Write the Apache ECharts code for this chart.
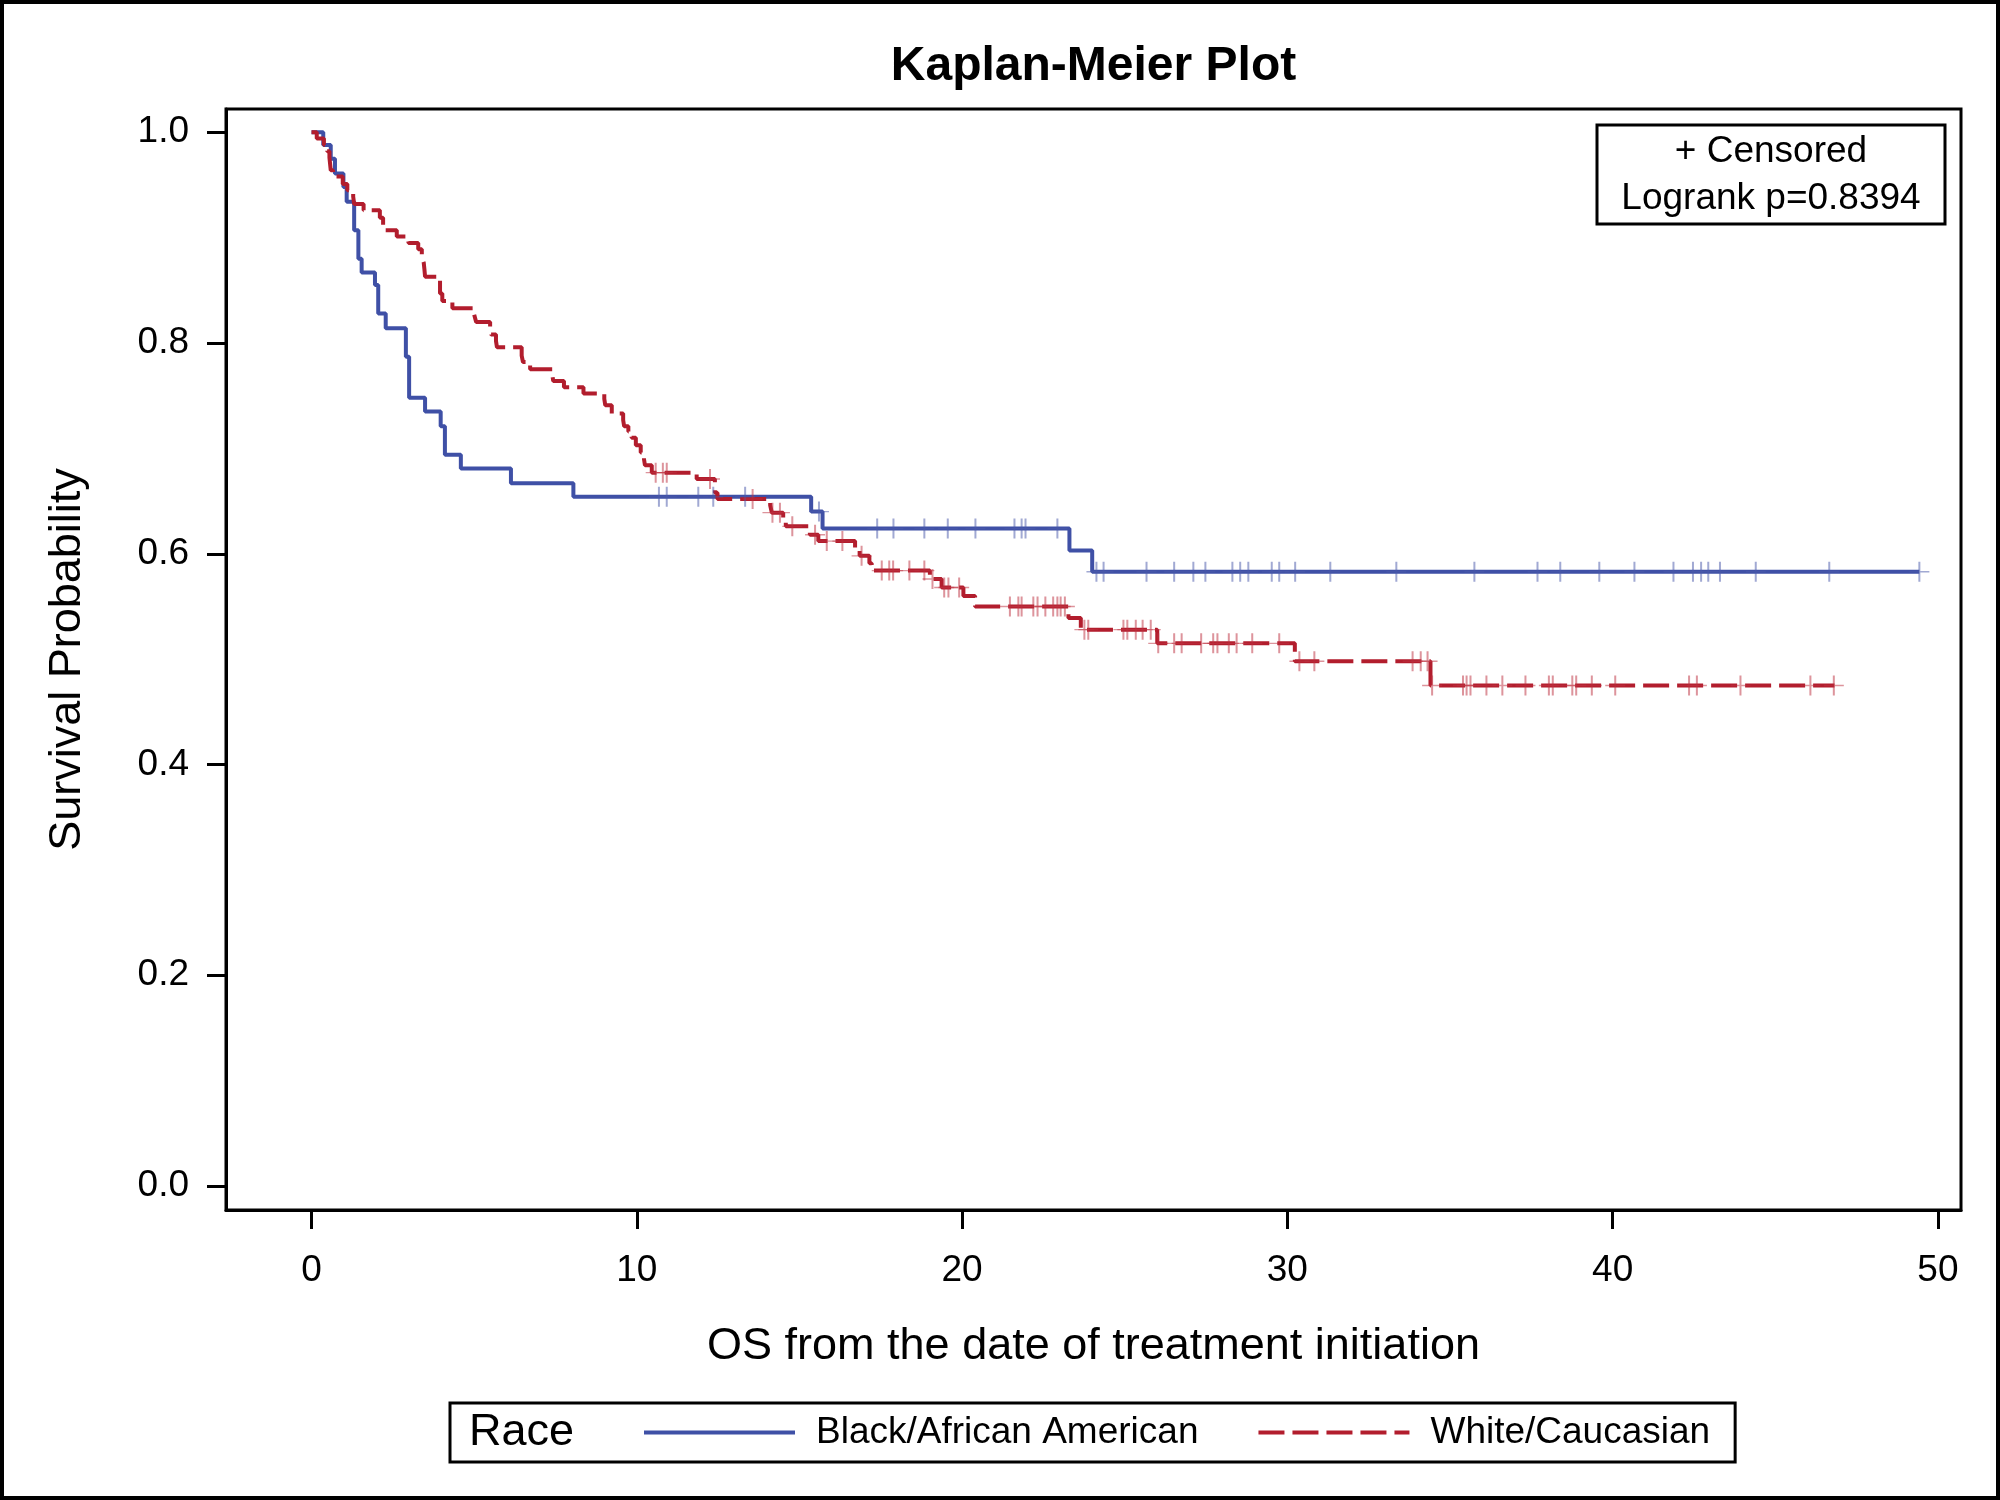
<!DOCTYPE html>
<html><head><meta charset="utf-8">
<script src="https://cdn.jsdelivr.net/npm/echarts@6/dist/echarts.min.js"></script>
<style>html,body{margin:0;padding:0;background:#fff}#c{width:2000px;height:1500px}</style>
</head><body><div id="c"></div>
<script>
const FONT = '"Liberation Sans", Arial, Helvetica, sans-serif';
const BLUE = '#3f50a6';
const RED = '#b21d2d';

const xTicks = [0, 10, 20, 30, 40, 50];
const yTicks = [0, 0.2, 0.4, 0.6, 0.8, 1.0];
const seriesNames = ['Black/African American', 'White/Caucasian'];

// Black/African American: event times and survival after each step
const blueTimes = [0, 0.36, 0.59, 0.72, 0.98, 1.08, 1.31, 1.44, 1.54, 1.95, 2.05, 2.28, 2.90, 3.00, 3.49, 3.97, 4.10, 4.59, 6.13, 8.05, 15.36, 15.71, 23.30, 24.00, 49.43];
const blueSurv  = [1.000, 0.988, 0.975, 0.961, 0.948, 0.934, 0.907, 0.880, 0.867, 0.855, 0.828, 0.814, 0.787, 0.748, 0.735, 0.721, 0.694, 0.681, 0.667, 0.654, 0.640, 0.624, 0.603, 0.583, 0.583];
const blueCensored = [10.68, 10.92, 11.89, 12.35, 13.33, 15.60, 17.39, 17.89, 18.84, 19.56, 20.41, 21.61, 21.83, 21.95, 22.93, 24.13, 24.35, 25.67, 26.52, 27.11, 27.48, 28.31, 28.55, 28.80, 29.52, 29.75, 30.24, 31.32, 33.35, 35.75, 37.69, 38.39, 39.59, 40.67, 41.87, 42.47, 42.72, 42.94, 43.30, 44.40, 46.66, 49.43];

// White/Caucasian
const redTimes = [0, 0.16, 0.38, 0.48, 0.55, 0.59, 0.66, 0.96, 1.10, 1.28, 1.31, 1.60, 2.10, 2.20, 2.62, 2.98, 3.28, 3.39, 3.45, 3.47, 3.49, 3.95, 4.02, 4.33, 5.00, 5.06, 5.49, 5.52, 5.67, 5.70, 6.46, 6.50, 6.72, 7.40, 7.43, 7.76, 8.36, 9.00, 9.03, 9.23, 9.58, 9.61, 9.74, 9.84, 9.97, 10.12, 10.22, 10.25, 10.46, 11.84, 12.40, 12.48, 14.10, 14.15, 14.50, 14.58, 15.32, 15.58, 16.71, 16.85, 17.15, 17.22, 19.01, 19.37, 20.04, 20.40, 23.27, 23.65, 26.00, 30.23, 34.40, 46.82];
const redSurv  = [1.000, 0.994, 0.988, 0.982, 0.976, 0.964, 0.958, 0.951, 0.945, 0.939, 0.932, 0.926, 0.919, 0.907, 0.901, 0.895, 0.889, 0.882, 0.876, 0.870, 0.863, 0.847, 0.840, 0.833, 0.827, 0.820, 0.814, 0.808, 0.802, 0.796, 0.788, 0.782, 0.775, 0.770, 0.764, 0.758, 0.752, 0.747, 0.741, 0.733, 0.727, 0.721, 0.716, 0.710, 0.703, 0.696, 0.690, 0.684, 0.677, 0.671, 0.658, 0.652, 0.646, 0.639, 0.632, 0.626, 0.618, 0.612, 0.605, 0.598, 0.591, 0.584, 0.576, 0.568, 0.560, 0.550, 0.539, 0.528, 0.515, 0.498, 0.475, 0.475];
const redCensored = [10.58, 10.80, 10.92, 12.25, 13.56, 14.17, 14.40, 14.78, 15.48, 15.84, 16.32, 16.91, 17.53, 17.76, 17.88, 18.38, 18.84, 19.09, 19.45, 19.58, 19.91, 21.47, 21.73, 21.83, 22.19, 22.32, 22.56, 22.80, 22.93, 23.03, 23.16, 23.76, 23.88, 24.96, 25.08, 25.34, 25.55, 25.80, 26.03, 26.52, 26.75, 27.35, 27.72, 27.85, 28.20, 28.44, 28.92, 29.75, 30.37, 30.83, 33.85, 34.10, 34.31, 34.45, 35.40, 35.51, 35.63, 36.12, 36.61, 37.32, 38.04, 38.16, 38.76, 38.88, 39.36, 40.08, 42.35, 42.59, 43.93, 46.08, 46.80];

function survAt(times, surv, t) {
  let s = surv[0];
  for (let i = 0; i < times.length; i++) { if (times[i] <= t) s = surv[i]; else break; }
  return s;
}
const PLUS = 'path://M-1,-10 L1,-10 L1,10 L-1,10 Z M-10,-0.7 L10,-0.7 L10,0.7 L-10,0.7 Z';

const chart = echarts.init(document.getElementById('c'), null, {renderer: 'canvas', width: 2000, height: 1500});
const option = {
  animation: false,
  backgroundColor: '#fff',
  title: {
    text: 'Kaplan-Meier Plot', left: 1093.5, top: 43, textAlign: 'center', padding: 0,
    textStyle: {fontSize: 48, fontWeight: 'bold', color: '#000', fontFamily: FONT}
  },
  grid: {left: 226, right: 39, top: 109, bottom: 290, show: true, borderColor: '#000', borderWidth: 3, backgroundColor: 'transparent'},
  xAxis: {
    type: 'value', min: -2.63, max: 50.71,
    name: 'OS from the date of treatment initiation', nameLocation: 'middle', nameGap: 114,
    nameTextStyle: {fontSize: 45, color: '#000', fontFamily: FONT},
    axisLine: {onZero: false, lineStyle: {color: '#000', width: 3}},
    axisTick: {show: true, customValues: xTicks, length: 19, lineStyle: {color: '#000', width: 3}},
    axisLabel: {customValues: xTicks, margin: 42, fontSize: 37, color: '#000', fontFamily: FONT},
    splitLine: {show: false}
  },
  yAxis: {
    type: 'value', min: -0.0228, max: 1.0221,
    name: 'Survival Probability', nameLocation: 'middle', nameGap: 136,
    nameTextStyle: {fontSize: 45, color: '#000', fontFamily: FONT},
    axisLine: {onZero: false, lineStyle: {color: '#000', width: 3}},
    axisTick: {show: true, customValues: yTicks, length: 19, lineStyle: {color: '#000', width: 3}},
    axisLabel: {customValues: yTicks, margin: 37, fontSize: 37, color: '#000', fontFamily: FONT, formatter: v => v.toFixed(1)},
    splitLine: {show: false}
  },
  legend: {
    data: seriesNames, left: 450, top: 1403, orient: 'horizontal',
    itemWidth: 151, itemHeight: 37, itemGap: 58,
    padding: [11, 25, 11, 192], borderColor: '#000', borderWidth: 3,
    itemStyle: {opacity: 0},
    lineStyle: {width: 4},
    textStyle: {fontSize: 37, color: '#000', fontFamily: FONT, padding: [0, 0, 0, 16]}
  },
  graphic: [
    {type: 'rect', silent: true, shape: {x: 2, y: 2, width: 1996, height: 1496}, style: {fill: 'none', stroke: '#000', lineWidth: 4}},
    {type: 'text', silent: true, x: 469, y: 1433, style: {text: 'Race', fontSize: 45, fontFamily: FONT, fill: '#000', textAlign: 'left', textVerticalAlign: 'middle'}},
    {type: 'rect', silent: true, shape: {x: 1597, y: 125, width: 348, height: 99}, style: {fill: '#fff', stroke: '#000', lineWidth: 3}, z: 10},
    {type: 'text', silent: true, x: 1771, y: 152, style: {text: '+ Censored', fontSize: 37, fontFamily: FONT, fill: '#000', textAlign: 'center', textVerticalAlign: 'middle'}, z: 11},
    {type: 'text', silent: true, x: 1771, y: 199, style: {text: 'Logrank p=0.8394', fontSize: 37, fontFamily: FONT, fill: '#000', textAlign: 'center', textVerticalAlign: 'middle'}, z: 11}
  ],
  series: [
    {
      name: seriesNames[0], type: 'line', step: 'end', symbol: 'none', z: 2,
      data: blueTimes.map((t, i) => [t, blueSurv[i]]),
      lineStyle: {color: BLUE, width: 4}, itemStyle: {color: BLUE}
    },
    {
      name: seriesNames[1], type: 'line', step: 'end', symbol: 'none', z: 3,
      data: redTimes.map((t, i) => [t, redSurv[i]]),
      lineStyle: {color: RED, width: 4, type: [26, 8]}, itemStyle: {color: RED}
    },
    {
      name: 'blue censored', type: 'scatter', symbol: PLUS, symbolSize: 20, z: 4, silent: true,
      data: blueCensored.map(t => [t, survAt(blueTimes, blueSurv, t)]),
      itemStyle: {color: 'rgba(75,90,170,0.65)'}
    },
    {
      name: 'red censored', type: 'scatter', symbol: PLUS, symbolSize: 20, z: 4, silent: true,
      data: redCensored.map(t => [t, survAt(redTimes, redSurv, t)]),
      itemStyle: {color: 'rgba(190,50,65,0.65)'}
    }
  ]
};
chart.setOption(option);
</script>
</body></html>
